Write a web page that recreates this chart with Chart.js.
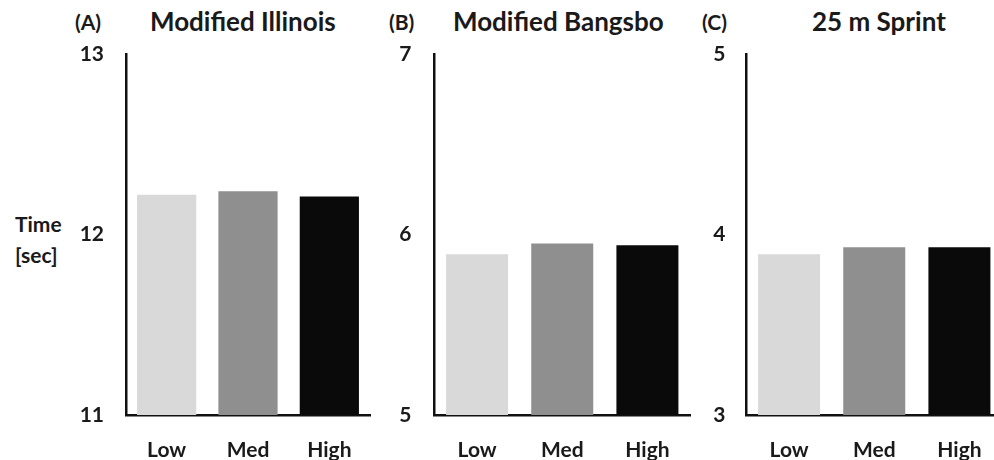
<!DOCTYPE html>
<html><head><meta charset="utf-8">
<script src="https://cdn.jsdelivr.net/npm/chart.js@4.4.1/dist/chart.umd.min.js"></script>
<style>
html,body{margin:0;padding:0;width:994px;height:460px;overflow:hidden;background:#fff;}
body{position:relative;font-family:Lato,"Open Sans",sans-serif;color:#1a1a1a;}
.cv{position:absolute;top:0;}
.t{position:absolute;font-weight:bold;white-space:nowrap;line-height:1;}
</style></head>
<body>
<div class="t" style="left:75px;top:11px;font-size:21px;">(A)</div>
<div class="t" style="left:150px;top:8px;font-size:26px;">Modified Illinois</div>
<div class="t" style="left:389px;top:11px;font-size:21px;">(B)</div>
<div class="t" style="left:453px;top:8px;font-size:26px;">Modified Bangsbo</div>
<div class="t" style="left:702px;top:11px;font-size:21px;">(C)</div>
<div class="t" style="left:812px;top:8px;font-size:26px;">25 m Sprint</div>
<div class="t" style="left:15px;top:208px;font-size:21px;line-height:31px;">Time<br>[sec]</div>
<div class="cv" style="left:0px;width:380px;height:470px;"><canvas id="cA"></canvas></div>
<div class="cv" style="left:330px;width:370px;height:470px;"><canvas id="cB"></canvas></div>
<div class="cv" style="left:660px;width:352px;height:470px;"><canvas id="cC"></canvas></div>
<script>
const categories = ["Low", "Med", "High"];
const illinoisValues = [12.22, 12.24, 12.21];
const bangsboValues = [5.89, 5.95, 5.94];
const sprintValues = [3.89, 3.93, 3.93];
const illinoisRange = [11, 13];
const bangsboRange = [5, 7];
const sprintRange = [3, 5];
const barColors = ["#d9d9d9", "#8f8f8f", "#0a0a0a"];

function makeChart(id, values, range, yWidth, tickPad) {
  return new Chart(document.getElementById(id), {
    type: 'bar',
    data: { labels: categories, datasets: [{ data: values, backgroundColor: barColors, borderWidth: 0,
      categoryPercentage: 1.0, barPercentage: 0.728 }] },
    options: {
      responsive: true, maintainAspectRatio: false, animation: false,
      layout: { padding: { top: 54, right: 10, bottom: 0, left: 0 } },
      plugins: { legend: { display: false }, tooltip: { enabled: false }, title: { display: false } },
      scales: {
        x: {
          grid: { display: false, drawTicks: false },
          border: { display: true, color: '#111', width: 2.5 },
          ticks: { color: '#1a1a1a', padding: 23, font: { family: 'Lato', size: 21, weight: 'bold' } },
          afterFit: s => { s.height = 55; }
        },
        y: {
          min: range[0], max: range[1],
          grid: { display: false, drawTicks: false },
          border: { display: true, color: '#111', width: 2.5 },
          ticks: { stepSize: 1, color: '#1a1a1a', padding: tickPad, font: { family: 'Lato', size: 21, weight: 'bold' } },
          afterFit: s => { s.width = yWidth; }
        }
      }
    }
  });
}
makeChart('cA', illinoisValues, illinoisRange, 126, 22);
makeChart('cB', bangsboValues, bangsboRange, 104.5, 23);
makeChart('cC', sprintValues, sprintRange, 86.5, 21);
</script>
</body></html>
